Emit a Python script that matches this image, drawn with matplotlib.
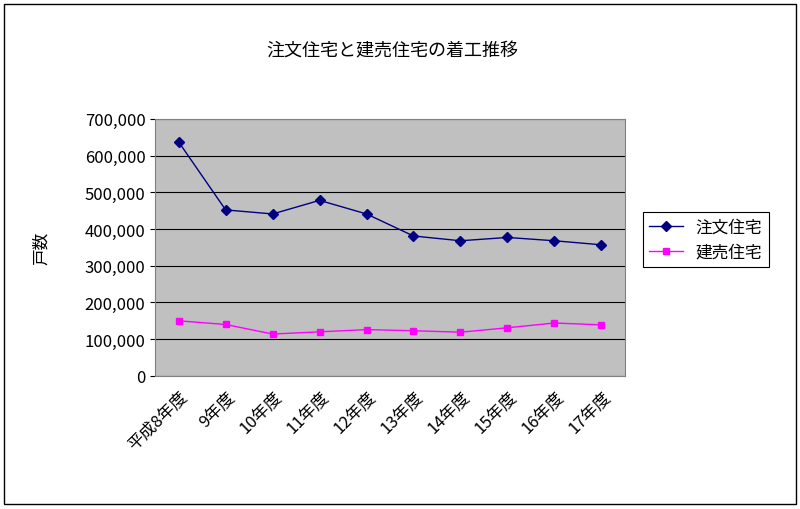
import matplotlib
matplotlib.use("Agg")
import matplotlib.pyplot as plt
from matplotlib.ticker import FuncFormatter
from matplotlib.patches import Rectangle

plt.rcParams['font.family'] = ['Noto Sans CJK JP', 'DejaVu Sans']

categories = ["平成8年度", "9年度", "10年度", "11年度", "12年度", "13年度", "14年度", "15年度", "16年度", "17年度"]
chumon = [637000, 452000, 441000, 478000, 441000, 381000, 368000, 377000, 368000, 357000]
tateuri = [150000, 140000, 114000, 120000, 126000, 123000, 119000, 131000, 144000, 139000]

fig = plt.figure(figsize=(8, 5.1), dpi=100)
fig.patches.append(Rectangle((0.005, 0.01), 0.99, 0.98, transform=fig.transFigure,
                             fill=False, edgecolor='black', linewidth=1))
ax = fig.add_axes([0.194, 0.261, 0.587, 0.504])
ax.set_facecolor('#c0c0c0')
x = list(range(len(categories)))
ax.plot(x, chumon, color='#000080', marker='D', markersize=5, linewidth=1, label='注文住宅')
ax.plot(x, tateuri, color='#ff00ff', marker='s', markersize=5, linewidth=1, label='建売住宅')
ax.set_xlim(-0.5, len(categories) - 0.5)
ax.set_ylim(0, 700000)
ax.set_yticks(range(0, 700001, 100000))
ax.yaxis.set_major_formatter(FuncFormatter(lambda v, p: f"{int(v):,}"))
ax.grid(axis='y', color='black', linewidth=0.8)
ax.set_axisbelow(True)
ax.set_xticks(x)
ax.set_xticklabels(categories, rotation=45, ha='right', rotation_mode='anchor', fontsize=12)
ax.tick_params(axis='y', labelsize=12)
ax.tick_params(axis='x', length=0, pad=8)
for s in ax.spines.values():
    s.set_color('#808080')
ax.set_ylabel('戸数', fontsize=12)
ax.yaxis.set_label_coords(-0.225, 0.5)
fig.text(0.49, 0.9, '注文住宅と建売住宅の着工推移', ha='center', va='center', fontsize=13)
leg = ax.legend(loc='center left', bbox_to_anchor=(1.02, 0.53), fontsize=12,
                frameon=True, fancybox=False, edgecolor='black', framealpha=1,
                handlelength=2, borderpad=0.4)
leg.get_frame().set_linewidth(0.8)
fig.savefig('out.png', dpi=100)
